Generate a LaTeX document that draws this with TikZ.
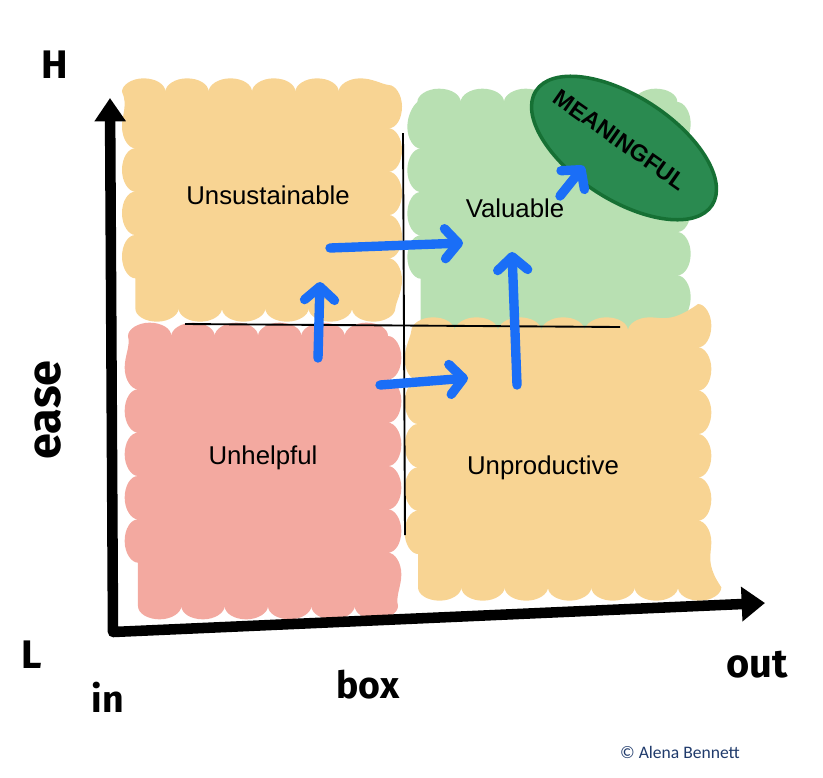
\documentclass[tikz,border=0pt]{standalone}
\usepackage{fontspec}
\setmainfont{Liberation Sans}
\newfontfamily\handfont{Fira Sans}
\newfontfamily\notefont{Carlito}
\usetikzlibrary{shapes.geometric,arrows.meta,decorations.pathmorphing}

\definecolor{sandy}{HTML}{F8D493}
\definecolor{mint}{HTML}{B8E0B2}
\definecolor{rosy}{HTML}{F3A9A0}
\definecolor{deepgreen}{HTML}{2A8A50}
\definecolor{rimgreen}{HTML}{167034}
\definecolor{moveblue}{HTML}{1A6EF7}
\definecolor{noteblue}{HTML}{1F3A6B}

\begin{document}
\begin{tikzpicture}[x=0.03cm,y=-0.03cm,
		blob/.style={rectangle, inner sep=0pt, fill=#1, decorate,
			decoration={bumps, mirror, segment length=2.6cm, amplitude=0.4cm}},
		field/.style={font=\fontsize{22}{26}\selectfont},
		hand/.style={font=\handfont\bfseries\fontsize{#1}{#1}\selectfont},
		move/.style={draw=moveblue, line width=8pt, line cap=round,
			-{Straight Barb[round,length=4mm,width=9mm]}}]
	\useasboundingbox (0,0) rectangle (823,777);
	
	% quadrant blobs
	\node[blob=sandy, minimum width=7.6cm, minimum height=6.5cm] (unsus) at (262,200) {};
	\node[blob=mint, minimum width=7.7cm, minimum height=6.6cm] (valu) at (549,212) {};
	\node[blob=rosy, minimum width=7.5cm, minimum height=8.1cm] (unhelp) at (263,471) {};
	\node[blob=sandy, minimum width=8.4cm, minimum height=7.7cm] (unprod) at (558,459) {};
	\node[ellipse, fill=deepgreen, draw=rimgreen, line width=3pt, minimum width=6.3cm, minimum height=3.1cm, rotate=-33] (meaning) at (624,148) {};
	
	% dividers
	\coordinate (vtop) at (403,133);
	\coordinate (vbot) at (405,535);
	\coordinate (hleft) at (185,324);
	\coordinate (hright) at (620,327);
	\draw[line width=1.6pt] (vtop) -- (vbot);
	\draw[line width=1.6pt] (hleft) -- (hright);
	
	% axes
	\coordinate (ytip) at (110,98);
	\coordinate (corner) at (113,632);
	\coordinate (xtip) at (765,603);
	\draw[line width=9pt, line join=round, {Triangle[length=7mm,width=9mm]}-{Triangle[length=7mm,width=10mm]}] (ytip) -- (corner) -- (xtip);
	
	% moves between quadrants
	\coordinate (a1) at (318,358);
	\coordinate (b1) at (320,282);
	\coordinate (a2) at (330,248);
	\coordinate (b2) at (463,243);
	\coordinate (a3) at (380,385);
	\coordinate (b3) at (468,378);
	\coordinate (a4) at (517,385);
	\coordinate (b4) at (512,252);
	\coordinate (a5) at (560,196);
	\coordinate (b5) at (584,166);
	\foreach \s/\e in {a1/b1,a2/b2,a3/b3,a4/b4,a5/b5} {
		\draw[move] (\s) -- (\e);
	}
	
	% labels
	\node[field] (tunsus) at (268,195) {Unsustainable};
	\node[field] (tvalu) at (515,208) {Valuable};
	\node[field] (tunhelp) at (263,458) {Unhelpful};
	\node[field] (tunprod) at (543,468) {Unproductive};
	\node[font=\bfseries\fontsize{20}{24}\selectfont, rotate=-35] (tmeaning) at (620,140) {MEANINGFUL};
	
	\node[hand=40, rotate=90] (ease) at (48,410) {ease};
	\node[hand=34] (high) at (55,65) {H};
	\node[hand=34] (low) at (32,655) {L};
	\node[hand=32] (in) at (108,697) {in};
	\node[hand=32] (box) at (368,685) {box};
	\node[hand=34] (out) at (757,665) {out};
	\node[font=\notefont\fontsize{15}{18}\selectfont, text=noteblue] (credit) at (680,752) {© Alena Bennett};
\end{tikzpicture}
\end{document}
